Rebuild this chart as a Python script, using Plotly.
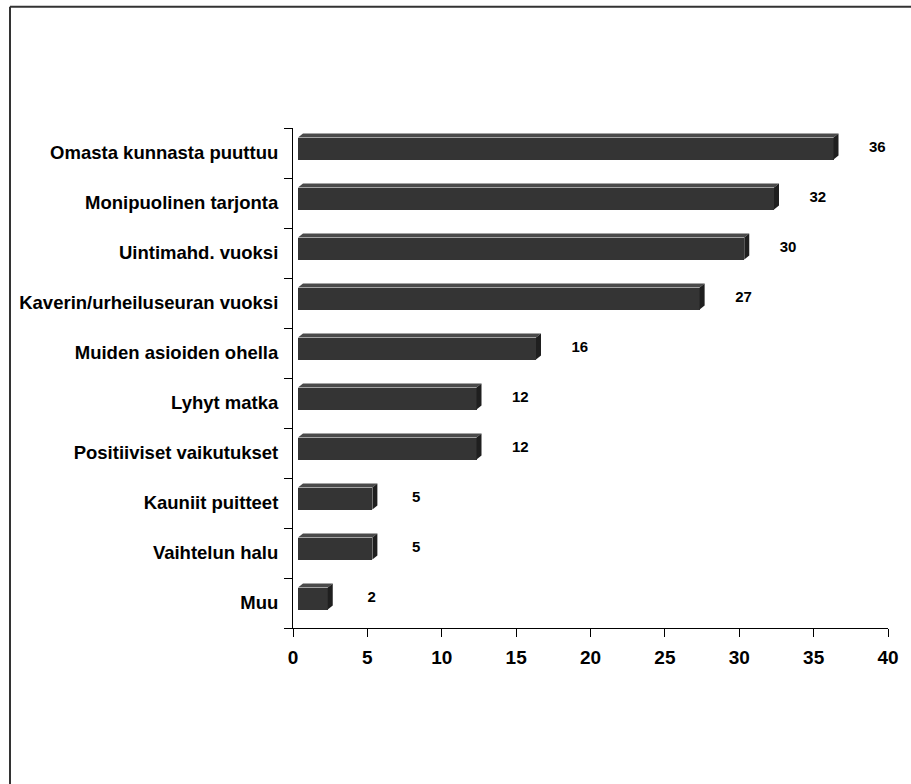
import plotly.graph_objects as go

categories = ["Omasta kunnasta puuttuu", "Monipuolinen tarjonta", "Uintimahd. vuoksi",
              "Kaverin/urheiluseuran vuoksi", "Muiden asioiden ohella", "Lyhyt matka",
              "Positiiviset vaikutukset", "Kauniit puitteet", "Vaihtelun halu", "Muu"]
values = [36, 32, 30, 27, 16, 12, 12, 5, 5, 2]
x_ticks = [0, 5, 10, 15, 20, 25, 30, 35, 40]

FONT = "Liberation Sans, Arial, sans-serif"
FRONT = "#343434"
TOP = "#4a4a4a"
SIDE = "#1f1f1f"

# plot area geometry (px)
L, R, T, B = 293, 23, 128, 156
W, H = 911, 784
pw = W - L - R
ph = H - T - B
xmax = 40
n = len(categories)
ux = pw / xmax          # px per x unit
uy = ph / n             # px per category
dx = 5 / ux             # 3D depth in x units
dy = 4 / uy             # 3D depth in y units
shift_y = 4.5 / uy
bw = 22 / uy

idx = list(range(n))

fig = go.Figure()
# invisible trace to anchor the visible axes
fig.add_trace(go.Scatter(x=[0], y=[0], mode="markers", marker=dict(opacity=0),
                         hoverinfo="skip", showlegend=False))
# front faces on shifted overlay axes
fig.add_trace(go.Bar(x=values, y=idx, orientation="h", width=bw,
                     marker=dict(color=FRONT, line=dict(width=0)),
                     xaxis="x2", yaxis="y2", hoverinfo="skip", showlegend=False))

shapes = []
for i, v in enumerate(values):
    top = i - bw / 2
    bot = i + bw / 2
    # top face
    shapes.append(dict(type="path", xref="x2", yref="y2",
                       path=f"M 0 {top} L {v} {top} L {v+dx} {top-dy} L {dx} {top-dy} Z",
                       fillcolor=TOP, line=dict(width=0), layer="above"))
    # side face
    shapes.append(dict(type="path", xref="x2", yref="y2",
                       path=f"M {v} {top} L {v+dx} {top-dy} L {v+dx} {bot-dy} L {v} {bot} Z",
                       fillcolor=SIDE, line=dict(width=0), layer="above"))

# data labels
fig.add_trace(go.Scatter(x=[v + 2.95 for v in values], y=idx, mode="text",
                         text=[str(v) for v in values],
                         textfont=dict(family=FONT, size=15, color="black", weight="bold"),
                         xaxis="x2", yaxis="y2", hoverinfo="skip", showlegend=False, cliponaxis=False))

# outer border (only top and left edges fall inside the frame)
bx0 = (10 - L) / pw
by1 = (H - B - 6.7) / ph
shapes.append(dict(type="line", xref="paper", yref="paper",
                   x0=bx0, x1=(W - L) / pw, y0=by1, y1=by1,
                   line=dict(color="#333333", width=2), layer="below"))
shapes.append(dict(type="line", xref="paper", yref="paper",
                   x0=bx0, x1=bx0, y0=-B / ph, y1=by1,
                   line=dict(color="#333333", width=2), layer="below"))

fig.update_layout(
    width=W, height=H,
    margin=dict(l=L, r=R, t=T, b=B),
    plot_bgcolor="white", paper_bgcolor="white",
    shapes=shapes,
    xaxis=dict(range=[0, xmax], tickvals=x_ticks, ticks="outside", ticklen=8,
               tickcolor="black", showline=True, linecolor="black", linewidth=1,
               showgrid=False, zeroline=False, ticklabelstandoff=4,
               tickfont=dict(family=FONT, size=19, color="black", weight="bold")),
    yaxis=dict(range=[n - 0.5, -0.5], tickvals=idx, ticktext=categories, ticks="",
               showline=True, linecolor="black", linewidth=1, showgrid=False, zeroline=False,
               ticklabelstandoff=10,
               minor=dict(tickvals=[i - 0.5 for i in range(n + 1)], ticks="outside",
                          ticklen=8, tickcolor="black", showgrid=False),
               tickfont=dict(family=FONT, size=18.5, color="black", weight="bold")),
    xaxis2=dict(range=[-dx, xmax - dx], overlaying="x", visible=False),
    yaxis2=dict(range=[n - 0.5 + shift_y, -0.5 + shift_y], overlaying="y", visible=False),
    bargap=0,
)

fig.write_html("out.html")
